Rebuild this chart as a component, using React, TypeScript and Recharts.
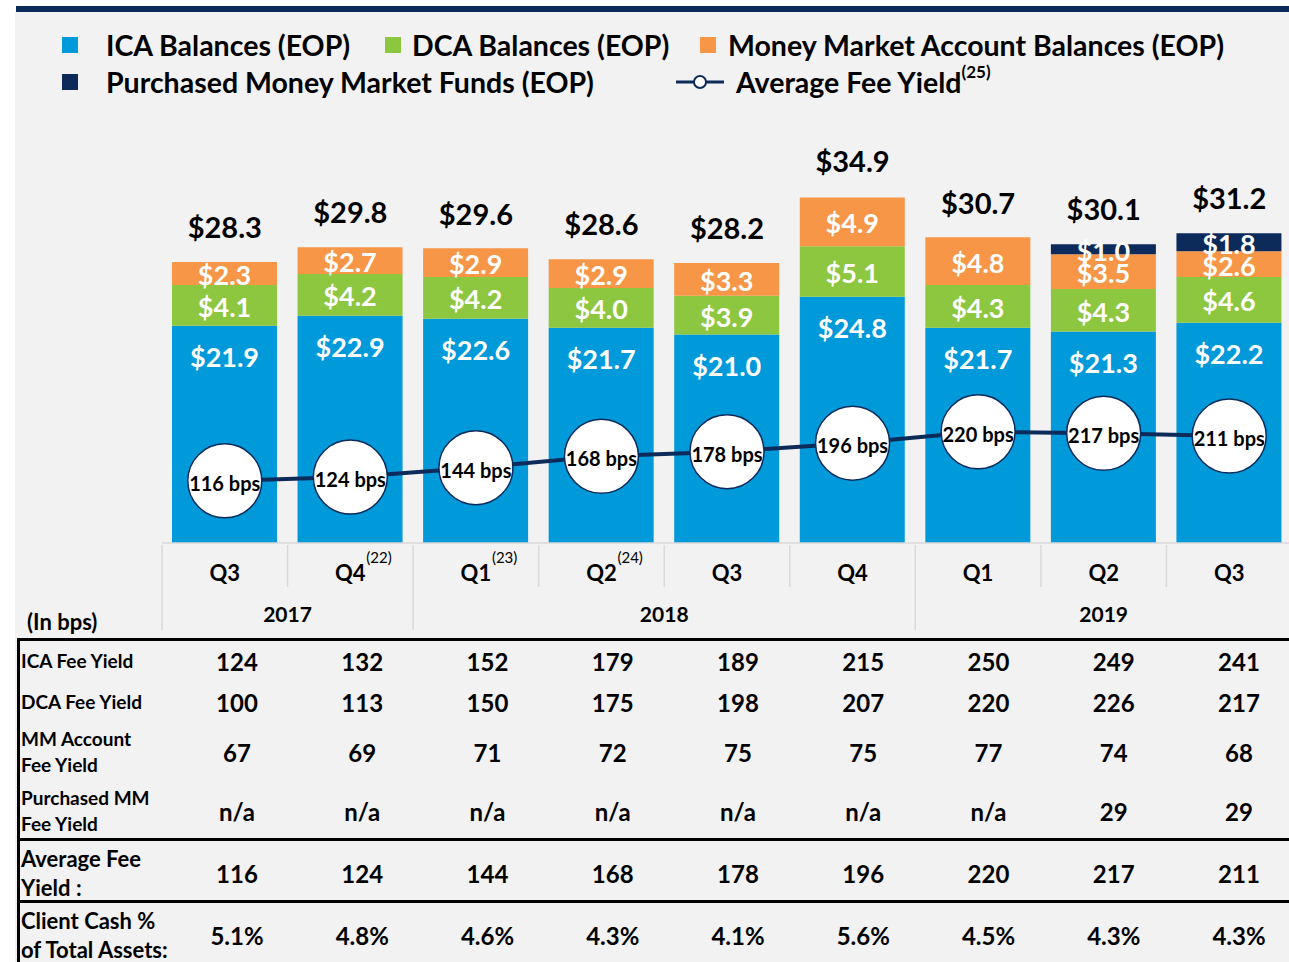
import React from "react";
import { ComposedChart, Bar, Line, XAxis, YAxis, LabelList } from "recharts";

const quarters = ["Q3", "Q4", "Q1", "Q2", "Q3", "Q4", "Q1", "Q2", "Q3"];
const quarterNotes = ["", "(22)", "(23)", "(24)", "", "", "", "", ""];
const years = ["2017", "2018", "2019"];
const yearSpans = [2, 4, 3];

const icaBalances = [21.9, 22.9, 22.6, 21.7, 21.0, 24.8, 21.7, 21.3, 22.2];
const dcaBalances = [4.1, 4.2, 4.2, 4.0, 3.9, 5.1, 4.3, 4.3, 4.6];
const mmaBalances = [2.3, 2.7, 2.9, 2.9, 3.3, 4.9, 4.8, 3.5, 2.6];
const purchasedMmf = [0, 0, 0, 0, 0, 0, 0, 1.0, 1.8];
const totals = [28.3, 29.8, 29.6, 28.6, 28.2, 34.9, 30.7, 30.1, 31.2];
const avgFeeYield = [116, 124, 144, 168, 178, 196, 220, 217, 211];

const icaFeeYield = ["124", "132", "152", "179", "189", "215", "250", "249", "241"];
const dcaFeeYield = ["100", "113", "150", "175", "198", "207", "220", "226", "217"];
const mmFeeYield = ["67", "69", "71", "72", "75", "75", "77", "74", "68"];
const purchasedFeeYield = ["n/a", "n/a", "n/a", "n/a", "n/a", "n/a", "n/a", "29", "29"];
const avgFeeRow = ["116", "124", "144", "168", "178", "196", "220", "217", "211"];
const clientCashPct = ["5.1%", "4.8%", "4.6%", "4.3%", "4.1%", "5.6%", "4.5%", "4.3%", "4.3%"];

const BLUE = "#0099da";
const GREEN = "#8dc63f";
const ORANGE = "#f79646";
const NAVY = "#0c2b5b";
const FONT = "Lato, 'Open Sans', sans-serif";

const CHART_W = 1292;
const PLOT_LEFT = 162;
const BAND = (CHART_W - PLOT_LEFT) / quarters.length;

const data = quarters.map((q, i) => ({
  name: `${q}-${i}`,
  ica: icaBalances[i],
  dca: dcaBalances[i],
  mma: mmaBalances[i],
  pmm: purchasedMmf[i],
  total: totals[i],
  avg: avgFeeYield[i],
}));

const yearStarts = yearSpans.map((_, k) => yearSpans.slice(0, k).reduce((a, b) => a + b, 0));

function SegLabel(props: any) {
  const { x, y, width, height, value } = props;
  if (!value) return null;
  return (
    <text x={x + width / 2} y={y + height / 2 + 1} textAnchor="middle" dominantBaseline="central"
      fill="#fff" fontFamily={FONT} fontWeight={700} fontSize={27}>
      ${value.toFixed(1)}
    </text>
  );
}

function IcaLabel(props: any) {
  const { x, y, width, value } = props;
  return (
    <text x={x + width / 2} y={y + 31} textAnchor="middle" dominantBaseline="central"
      fill="#fff" fontFamily={FONT} fontWeight={700} fontSize={27}>
      ${value.toFixed(1)}
    </text>
  );
}

function TotalLabel(props: any) {
  const { x, y, value } = props;
  return (
    <text x={x} y={y - 36} textAnchor="middle" dominantBaseline="central"
      fill="#000" fontFamily={FONT} fontWeight={700} fontSize={29}>
      ${value.toFixed(1)}
    </text>
  );
}

function FeeDot(props: any) {
  const { cx, cy, payload, index } = props;
  return (
    <g key={`dot-${index}`}>
      <circle cx={cx} cy={cy} r={37} fill="#fff" stroke={NAVY} strokeWidth={1.5} />
      <text x={cx} y={cy + 2} textAnchor="middle" dominantBaseline="central"
        fill="#000" fontFamily={FONT} fontWeight={700} fontSize={20}>
        {payload.avg} bps
      </text>
    </g>
  );
}

function QuarterTick(props: any) {
  const { x, y, payload } = props;
  const i = payload.index;
  const left = x - BAND / 2;
  const yearIdx = yearStarts.indexOf(i);
  return (
    <g>
      <line x1={left} x2={left} y1={y + 2} y2={yearIdx >= 0 ? y + 87 : y + 44} stroke="#d9d9d9" strokeWidth={1.5} />
      <text x={x} y={y + 29} textAnchor="middle" dominantBaseline="central"
        fill="#000" fontFamily={FONT} fontWeight={700} fontSize={22}>
        {quarters[i]}
      </text>
      {quarterNotes[i] && (
        <text x={x + 16} y={y + 14} textAnchor="start" dominantBaseline="central"
          fill="#000" fontFamily={FONT} fontSize={15}>
          {quarterNotes[i]}
        </text>
      )}
      {yearIdx >= 0 && (
        <text x={left + (yearSpans[yearIdx] * BAND) / 2} y={y + 70} textAnchor="middle" dominantBaseline="central"
          fill="#000" fontFamily={FONT} fontWeight={700} fontSize={21}>
          {years[yearIdx]}
        </text>
      )}
    </g>
  );
}

const legendItems = [
  { label: "ICA Balances (EOP)", color: BLUE, left: 62, top: 46, gap: 28 },
  { label: "DCA Balances (EOP)", color: GREEN, left: 385, top: 46, gap: 11 },
  { label: "Money Market Account Balances (EOP)", color: ORANGE, left: 700, top: 46, gap: 12 },
  { label: "Purchased Money Market Funds (EOP)", color: NAVY, left: 62, top: 83, gap: 28 },
];

const tableRows = [
  { label: ["ICA Fee Yield"], values: icaFeeYield, y: 661, size: 19 },
  { label: ["DCA Fee Yield"], values: dcaFeeYield, y: 702, size: 19 },
  { label: ["MM Account", "Fee Yield"], values: mmFeeYield, y: 752, size: 19 },
  { label: ["Purchased MM", "Fee Yield"], values: purchasedFeeYield, y: 811, size: 19 },
  { label: ["Average Fee", "Yield :"], values: avgFeeRow, y: 873, size: 22 },
  { label: ["Client Cash %", "of Total Assets:"], values: clientCashPct, y: 935, size: 22 },
];

const abs = (left: number, top: number): React.CSSProperties => ({ position: "absolute", left, top });

export default function App() {
  return (
    <div style={{ position: "absolute", left: 0, top: 0, width: 1289, height: 962, overflow: "hidden", background: "#fff", fontFamily: FONT }}>
      <div style={{ ...abs(15, 12), width: 1274, height: 950, background: "#f2f2f2" }} />
      <div style={{ ...abs(16, 6), width: 1273, height: 6, background: NAVY }} />

      {legendItems.map((it) => (
        <div key={it.label} style={{ ...abs(it.left, it.top - 17), height: 32, display: "flex", alignItems: "center", whiteSpace: "nowrap" }}>
          <div style={{ width: 16, height: 16, background: it.color, marginRight: it.gap }} />
          <span style={{ fontSize: 28.5, fontWeight: 700, color: "#000" }}>{it.label}</span>
        </div>
      ))}
      <div style={{ ...abs(676, 83 - 17), height: 32, display: "flex", alignItems: "center", whiteSpace: "nowrap" }}>
        <svg width={48} height={16} style={{ marginRight: 12 }}>
          <line x1={0} x2={48} y1={8} y2={8} stroke={NAVY} strokeWidth={3} />
          <circle cx={24} cy={8} r={6} fill="#fff" stroke={NAVY} strokeWidth={2} />
        </svg>
        <span style={{ fontSize: 28.5, fontWeight: 700, color: "#000" }}>
          Average Fee Yield<sup style={{ fontSize: 17, verticalAlign: "top", position: "relative", top: -4 }}>(25)</sup>
        </span>
      </div>

      <div style={abs(0, 0)}>
        <ComposedChart width={CHART_W} height={640} data={data} margin={{ top: 146, right: 0, bottom: 0, left: PLOT_LEFT }}>
          <XAxis dataKey="name" height={97} interval={0} tickSize={0} tickMargin={0} tickLine={false}
            axisLine={{ stroke: "#d9d9d9", strokeWidth: 1.5 }} tick={<QuarterTick />} />
          <YAxis yAxisId="left" domain={[0, 40]} hide />
          <YAxis yAxisId="right" orientation="right" domain={[-16, 827]} allowDataOverflow hide />
          <Bar yAxisId="left" dataKey="ica" stackId="s" fill={BLUE} barSize={105} isAnimationActive={false}>
            <LabelList dataKey="ica" content={<IcaLabel />} />
          </Bar>
          <Bar yAxisId="left" dataKey="dca" stackId="s" fill={GREEN} barSize={105} isAnimationActive={false}>
            <LabelList dataKey="dca" content={<SegLabel />} />
          </Bar>
          <Bar yAxisId="left" dataKey="mma" stackId="s" fill={ORANGE} barSize={105} isAnimationActive={false}>
            <LabelList dataKey="mma" content={<SegLabel />} />
          </Bar>
          <Bar yAxisId="left" dataKey="pmm" stackId="s" fill={NAVY} barSize={105} isAnimationActive={false}>
            <LabelList dataKey="pmm" content={<SegLabel />} />
          </Bar>
          <Line yAxisId="left" dataKey="total" stroke="none" dot={false} activeDot={false} isAnimationActive={false}>
            <LabelList dataKey="total" content={<TotalLabel />} />
          </Line>
          <Line yAxisId="right" dataKey="avg" stroke={NAVY} strokeWidth={4} dot={FeeDot} activeDot={false} isAnimationActive={false} />
        </ComposedChart>
      </div>

      <div style={{ ...abs(27, 622 - 14), fontSize: 22, fontWeight: 700, color: "#000", whiteSpace: "nowrap", lineHeight: "28px" }}>(In bps)</div>

      <div style={{ ...abs(17, 638), width: 1272, height: 3, background: "#000" }} />
      <div style={{ ...abs(17, 638), width: 3, height: 324, background: "#000" }} />
      <div style={{ ...abs(17, 838), width: 1272, height: 3, background: "#000" }} />
      <div style={{ ...abs(17, 900), width: 1272, height: 3, background: "#000" }} />

      {tableRows.map((row) => (
        <React.Fragment key={row.label.join(" ")}>
          <div style={{ ...abs(21, row.y), transform: "translateY(-50%)", fontSize: row.size, fontWeight: 700, color: "#000", whiteSpace: "nowrap", lineHeight: row.size > 20 ? "29px" : "26px" }}>
            {row.label.map((l) => <div key={l}>{l}</div>)}
          </div>
          {row.values.map((v, i) => (
            <div key={i} style={{ ...abs(237 + i * 125.25, row.y), transform: "translate(-50%, -50%)", fontSize: 24, fontWeight: 700, color: "#000", whiteSpace: "nowrap" }}>
              {v}
            </div>
          ))}
        </React.Fragment>
      ))}
    </div>
  );
}
